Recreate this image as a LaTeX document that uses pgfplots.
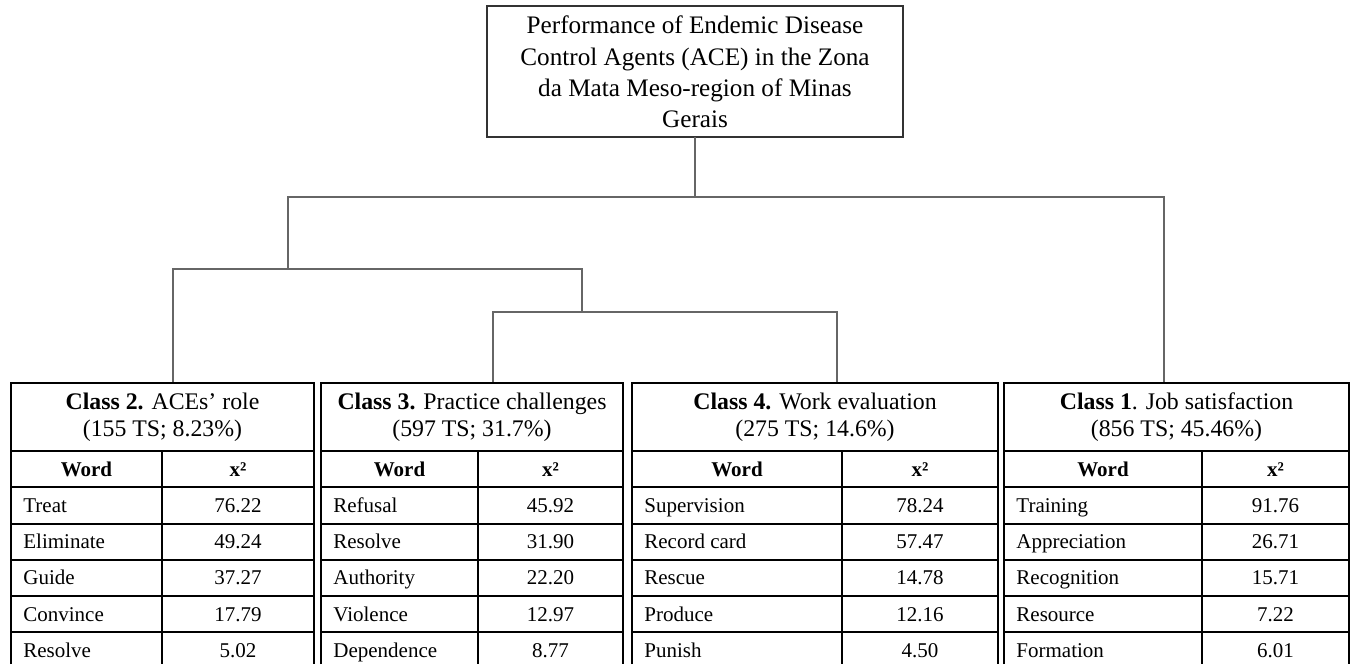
\documentclass[border=0pt]{standalone}
\usepackage{pgfplots}
\usepackage{pgfplotstable}
\pgfplotsset{compat=1.18}
\usepackage{fontspec}
\setmainfont{Liberation Serif}

\pgfplotstableread[col sep=comma]{
word,chi
Treat,76.22
Eliminate,49.24
Guide,37.27
Convince,17.79
Resolve,5.02
}\classTwo
\pgfplotstableread[col sep=comma]{
word,chi
Refusal,45.92
Resolve,31.90
Authority,22.20
Violence,12.97
Dependence,8.77
}\classThree
\pgfplotstableread[col sep=comma]{
word,chi
Supervision,78.24
Record card,57.47
Rescue,14.78
Produce,12.16
Punish,4.50
}\classFour
\pgfplotstableread[col sep=comma]{
word,chi
Training,91.76
Appreciation,26.71
Recognition,15.71
Resource,7.22
Formation,6.01
}\classOne

\newcommand{\tframe}[3]{%
 \addplot[tbl] coordinates {(#1,664) (#1,383) (#3,383) (#3,664)};
 \addplot[tbl] coordinates {(#1,451) (#3,451)};
 \addplot[tbl] coordinates {(#1,487) (#3,487)};
 \addplot[tbl] coordinates {(#1,524) (#3,524)};
 \addplot[tbl] coordinates {(#1,560) (#3,560)};
 \addplot[tbl] coordinates {(#1,596) (#3,596)};
 \addplot[tbl] coordinates {(#1,632) (#3,632)};
 \addplot[tbl] coordinates {(#2,451) (#2,664)};
}
\newcommand{\tcontent}[4]{% L S R table
 \addplot[only marks, mark=none, nodes near coords, point meta=explicit symbolic,
   every node near coord/.append style={anchor=base west, inner sep=0pt, font=\rowfont, text=black}]
   table[x expr=#1+12, y expr=512.5+36.2*\coordindex, meta=word] {#4};
 \addplot[only marks, mark=none, nodes near coords, point meta=explicit symbolic,
   every node near coord/.append style={anchor=base, inner sep=0pt, font=\rowfont, text=black}]
   table[x expr=(#2+#3)/2, y expr=512.5+36.2*\coordindex, meta=chi] {#4};
 \node[font=\rowfont\bfseries, anchor=base, inner sep=0pt] at (axis cs:{(#1+#2)/2},476) {Word};
 \node[font=\rowfont\bfseries, anchor=base, inner sep=0pt] at (axis cs:{(#2+#3)/2},476) {x²};
}
\newcommand{\rowfont}{\fontsize{10.5}{12}\selectfont}
\newcommand{\hdfont}{\fontsize{11.9}{13.6}\selectfont}

\begin{document}
\begin{tikzpicture}
\begin{axis}[
  scale only axis, width=676pt, height=332pt,
  xmin=0, xmax=1352, ymin=0, ymax=664, y dir=reverse,
  hide axis, clip=false,
  tbl/.style={black, line width=1pt, line join=miter, mark=none},
  tree/.style={black!60, line width=0.75pt, mark=none},
]
\path (axis cs:0,0) rectangle (axis cs:1352,664);
% title box
\addplot[black!80, line width=1pt, line join=miter, mark=none] coordinates {(695,6) (903,6) (903,137) (487,137) (487,6) (695,6)};
\node[align=center, font=\fontsize{12.6}{15.6}\selectfont] at (axis cs:695,72) {Performance of Endemic Disease\\Control Agents (ACE) in the Zona\\da Mata Meso-region of Minas\\Gerais};
% tree
\addplot[tree] coordinates {(695,137) (695,197)};
\addplot[tree] coordinates {(288,269) (288,197) (1164,197) (1164,383)};
\addplot[tree] coordinates {(173,383) (173,269) (582,269) (582,312)};
\addplot[tree] coordinates {(493,383) (493,312) (837,312) (837,383)};
% tables
\tframe{11}{162}{314}
\tframe{321}{478}{623}
\tframe{632}{842}{998}
\tframe{1004}{1202}{1349}
\tcontent{11}{162}{314}{\classTwo}
\tcontent{321}{478}{623}{\classThree}
\tcontent{632}{842}{998}{\classFour}
\tcontent{1004}{1202}{1349}{\classOne}
\node[align=center, font=\hdfont] at (axis cs:162.5,417) {\textbf{Class 2.} ACEs' role\\(155 TS; 8.23\%)};
\node[align=center, font=\hdfont] at (axis cs:472,417) {\textbf{Class 3.} Practice challenges\\(597 TS; 31.7\%)};
\node[align=center, font=\hdfont] at (axis cs:815,417) {\textbf{Class 4.} Work evaluation\\(275 TS; 14.6\%)};
\node[align=center, font=\hdfont] at (axis cs:1176.5,417) {\textbf{Class 1}. Job satisfaction\\(856 TS; 45.46\%)};
\end{axis}
\end{tikzpicture}
\end{document}
